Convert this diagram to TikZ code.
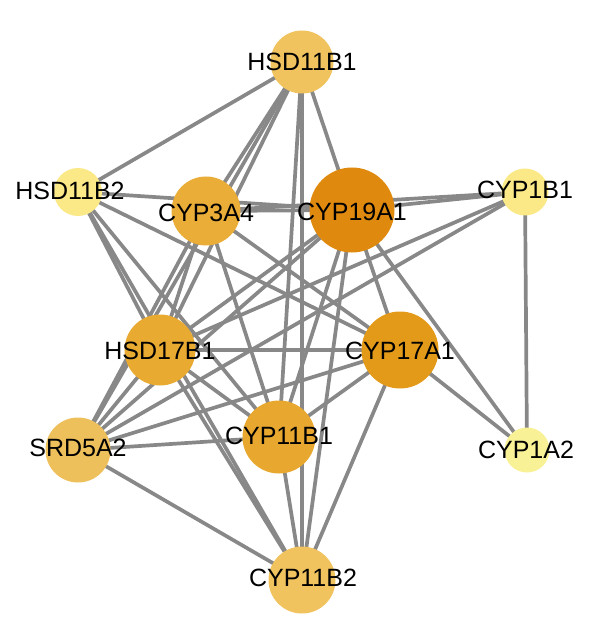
\documentclass[tikz,border=0pt]{standalone}
\usepackage{fontspec}
\setmainfont{Liberation Sans}
\usetikzlibrary{backgrounds}
\definecolor{edgegray}{RGB}{136,136,136}
\definecolor{cA}{RGB}{240,195,95}
\definecolor{cB}{RGB}{251,233,135}
\definecolor{cC}{RGB}{234,173,56}
\definecolor{cD}{RGB}{223,138,14}
\definecolor{cE}{RGB}{251,233,135}
\definecolor{cF}{RGB}{233,170,50}
\definecolor{cG}{RGB}{227,154,24}
\definecolor{cH}{RGB}{238,192,92}
\definecolor{cI}{RGB}{232,168,48}
\definecolor{cJ}{RGB}{248,241,150}
\definecolor{cK}{RGB}{240,195,95}
\begin{document}
\begin{tikzpicture}[x=1pt,y=-1pt,
  edge/.style={draw=edgegray, line width=3.7pt},
  gene/.style={circle, inner sep=0pt, draw=none},
  lbl/.style={font=\fontsize{25}{28}\selectfont, text=black, inner sep=0pt}]
\useasboundingbox (0,0) rectangle (600,636);
% nodes (circles)
\node[gene, fill=cA, minimum size=63pt] (A) at (302,62) {};
\node[gene, fill=cB, minimum size=48pt] (B) at (78,192) {};
\node[gene, fill=cC, minimum size=69pt] (C) at (206,211) {};
\node[gene, fill=cD, minimum size=85pt] (D) at (352,210) {};
\node[gene, fill=cE, minimum size=47pt] (E) at (525,192) {};
\node[gene, fill=cF, minimum size=71pt] (F) at (160,350) {};
\node[gene, fill=cG, minimum size=77pt] (G) at (400,350) {};
\node[gene, fill=cH, minimum size=65pt] (H) at (78,450) {};
\node[gene, fill=cI, minimum size=73pt] (I) at (279,437) {};
\node[gene, fill=cJ, minimum size=45pt] (J) at (527,450) {};
\node[gene, fill=cK, minimum size=67pt] (K) at (302,580) {};
% edges
\begin{scope}[on background layer]
\foreach \u/\v in {A/B,A/C,A/D,A/F,A/H,A/I,A/K,
  B/D,B/F,B/G,B/I,B/K,
  C/D,C/E,C/F,C/G,C/H,C/I,
  D/E,D/F,D/G,D/H,D/I,D/J,D/K,
  E/F,E/H,E/J,
  F/G,F/H,F/I,F/K,
  G/H,G/I,G/J,G/K,
  H/I,H/K,I/K}
  \draw[edge] (\u.center) -- (\v.center);
\end{scope}
% labels
\node[lbl] (tA) at (A) {HSD11B1};
\node[lbl] (tB) at (70,191) {HSD11B2};
\node[lbl] (tC) at (206,213) {CYP3A4};
\node[lbl] (tD) at (352,212) {CYP19A1};
\node[lbl] (tE) at (525,190) {CYP1B1};
\node[lbl] (tF) at (160,351) {HSD17B1};
\node[lbl] (tG) at (400,351) {CYP17A1};
\node[lbl] (tH) at (78,448) {SRD5A2};
\node[lbl] (tI) at (279,436) {CYP11B1};
\node[lbl] (tJ) at (526,450) {CYP1A2};
\node[lbl] (tK) at (303,578) {CYP11B2};
\end{tikzpicture}
\end{document}
